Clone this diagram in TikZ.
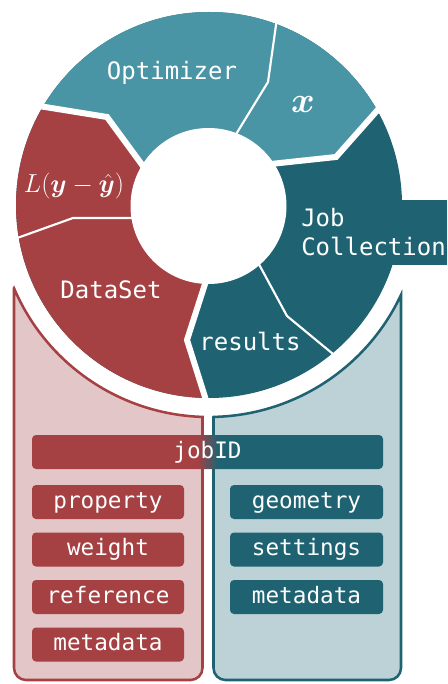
\RequirePackage{fix-cm}
\documentclass[tikz,border=0pt]{standalone}
\usepackage{amsmath}
\usepackage{bm}
\usepackage{fontspec}
\newfontfamily\monofont{DejaVu Sans Mono}
\definecolor{cR}{HTML}{A54043}
\definecolor{cT}{HTML}{1F6372}
\definecolor{cL}{HTML}{4995A6}
\definecolor{cRl}{HTML}{E3C6C7}
\definecolor{cTl}{HTML}{BCD2D7}
\newdimen\pxu \pxu=0.75pt
\pgfdeclarehorizontalshading{jobshade}{100bp}{color(0bp)=(cR); color(48.6bp)=(cR); color(51.5bp)=(cT); color(100bp)=(cT)}
\tikzset{
  biglabel/.style={text=white, font=\monofont\fontsize{18}{21}\selectfont, inner sep=0pt},
  boxbase/.style={rounded corners=3pt, minimum height=34\pxu, text=white,
    font=\monofont\fontsize{17}{20}\selectfont, text height=13.6pt, text depth=4.3pt, inner sep=0pt},
  rbox/.style={boxbase, fill=cR, minimum width=152\pxu},
  tbox/.style={boxbase, fill=cT, minimum width=153\pxu},
  thickgap/.style={white, line width=4.5pt},
  thingap/.style={white, line width=1.6pt},
  panelR/.style={draw=cR, fill=cRl, line width=1.9pt},
  panelT/.style={draw=cT, fill=cTl, line width=1.9pt},
}
\begin{document}
\begin{tikzpicture}[x=0.75pt,y=0.75pt]
\useasboundingbox (0,0) rectangle (447,-684);
% panels
\draw[panelR] (14,-288.2) [rounded corners=9pt] -- (14,-680) -- (202.5,-680) [sharp corners] -- (202.5,-416.9)
  arc[start angle=-91.76, end angle=-156.9, radius=212] -- cycle;
\draw[panelT] (213.5,-416.95) [rounded corners=9pt] -- (213.5,-680) -- (401,-680) [sharp corners] -- (401,-294.9)
  arc[start angle=-25.1, end angle=-88.78, radius=212] -- cycle;
% pie
\begin{scope}
\clip (209,-205) circle[radius=193];
\fill[cT] (209,-205) circle[radius=196];
\fill[cL] (209,-205) -- (150,-176) -- (140,-162) -- (107,-117) -- (45,-107) -- (-20,-96) -- (-20,30) -- (460,30)
  -- (460,-60) -- (400,-85) -- (375,-113) -- (336,-157) -- (280,-163) -- (262,-165) -- cycle;
\fill[cR] (209,-205) -- (150,-176) -- (140,-162) -- (107,-117) -- (45,-107) -- (-20,-96) -- (-20,-430) -- (215,-430)
  -- (205,-397) -- (187,-340) -- (205,-284) -- (209,-270) -- cycle;
\end{scope}
\fill[cT] (380,-200) rectangle (447,-265);
\draw[thickgap] (262,-165) -- (280,-163) -- (336,-157) -- (375,-113) -- (388,-98);
\draw[thickgap] (209,-270) -- (205,-284) -- (187,-340) -- (205,-397) -- (207.5,-405);
\draw[thickgap] (150,-176) -- (140,-162) -- (107,-117) -- (45,-107) -- (20,-103);
\draw[thingap] (232,-141) -- (238,-131) -- (268,-82) -- (276,-25) -- (278,-10);
\draw[thingap] (255,-257) -- (261,-268) -- (287,-316) -- (333,-354) -- (340,-360);
\draw[thingap] (145,-218) -- (131,-218) -- (73,-218) -- (20,-237) -- (10,-240.6);
\fill[white] (208.5,-206) circle[radius=78];
% pie labels
\node[biglabel, anchor=base] (opt) at (172,-80) {Optimizer};
\node[text=white, inner sep=0pt, font=\fontsize{27}{30}\selectfont] (xv) at (303,-105) {$\boldsymbol{x}$};
\node[text=white, inner sep=0pt, font=\fontsize{19.5}{22}\selectfont] (loss) at (74,-186) {$L(\boldsymbol{y}-\hat{\boldsymbol{y}})$};
\node[biglabel, anchor=base west] (job1) at (301,-226) {Job};
\node[biglabel, anchor=base west] (job2) at (301,-255) {Collection};
\node[biglabel, anchor=base] (ds) at (111,-298) {DataSet};
\node[biglabel, anchor=base] (res) at (250,-350) {results};
% boxes
\node[boxbase, shade, shading=jobshade, minimum width=351\pxu] (jobid) at (207.5,-452) {jobID};
\node[rbox] (prop) at (108,-502) {property};
\node[rbox] (wt) at (108,-549.5) {weight};
\node[rbox] (ref) at (108,-597) {reference};
\node[rbox] (mdl) at (108,-644.5) {metadata};
\node[tbox] (geo) at (306.5,-502) {geometry};
\node[tbox] (set) at (306.5,-549.5) {settings};
\node[tbox] (mdr) at (306.5,-597) {metadata};
\end{tikzpicture}
\end{document}
